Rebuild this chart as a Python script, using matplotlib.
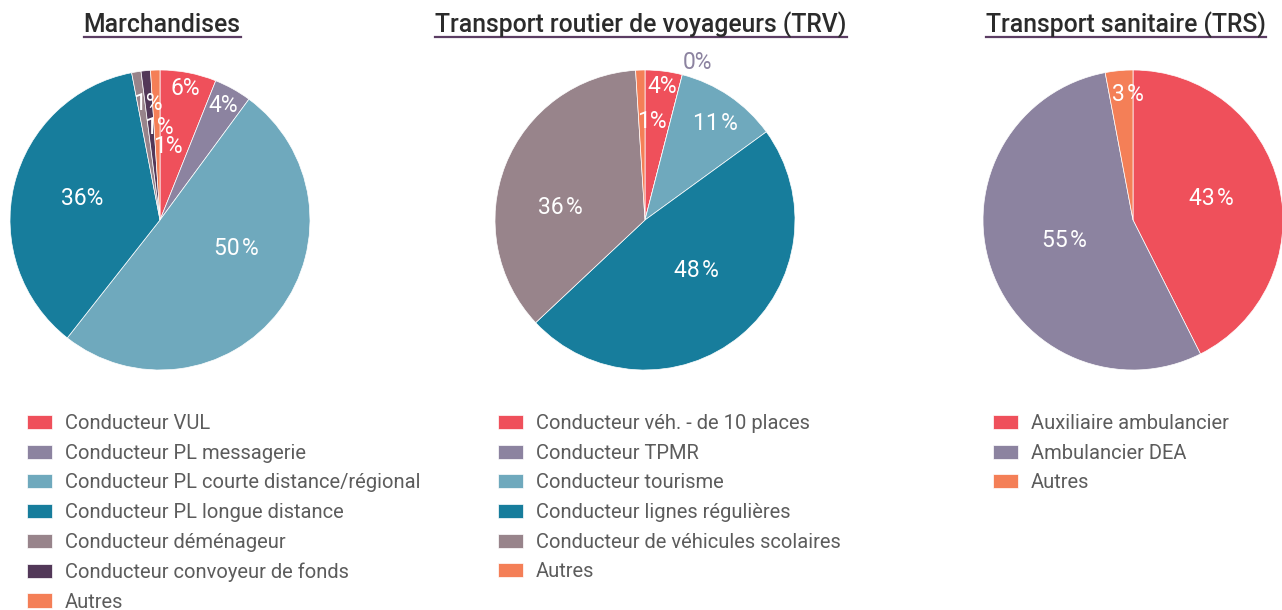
import matplotlib

matplotlib.use("Agg")
import matplotlib.pyplot as plt
import numpy as np
from matplotlib.lines import Line2D

W, H, DPI = 1282, 610, 100

RED = "#EF505B"
LILAC = "#8C83A0"
SKY = "#6FA9BD"
TEAL = "#177D9C"
MAUVE = "#98848B"
PLUM = "#523858"
ORANGE = "#F47F57"

INK = "#2b2b2b"
MUTED = "#5c5c5c"
RULE = "#5b3d63"

plt.rcParams["font.family"] = ["Roboto", "DejaVu Sans"]

# --- data -------------------------------------------------------------
march_title = "Marchandises"
march_labels = ["Conducteur VUL", "Conducteur PL messagerie",
                "Conducteur PL courte distance/régional",
                "Conducteur PL longue distance", "Conducteur déménageur",
                "Conducteur convoyeur de fonds", "Autres"]
march_values = [6, 4, 50, 36, 1, 1, 1]
march_colors = [RED, LILAC, SKY, TEAL, MAUVE, PLUM, ORANGE]

trv_title = "Transport routier de voyageurs (TRV)"
trv_labels = ["Conducteur véh. - de 10 places", "Conducteur TPMR",
              "Conducteur tourisme", "Conducteur lignes régulières",
              "Conducteur de véhicules scolaires", "Autres"]
trv_values = [4, 0, 11, 48, 36, 1]
trv_colors = [RED, LILAC, SKY, TEAL, MAUVE, ORANGE]

trs_title = "Transport sanitaire (TRS)"
trs_labels = ["Auxiliaire ambulancier", "Ambulancier DEA", "Autres"]
trs_values = [43, 55, 3]
trs_colors = [RED, LILAC, ORANGE]

# --- label placement (radius as fraction of R, angular nudge in deg, hair space) ---
march_lab_r = [0.89, 0.87, 0.54, 0.54, 0.78, 0.62, 0.49]
march_lab_dt = [0, 0, -17, 2, 3, 5, 8]
march_lab_sp = [False, False, True, False, False, False, False]

trv_lab_r = [0.90, 1.11, 0.80, 0.48, 0.57, 0.66]
trv_lab_dt = [0, 4, 2, -6, -13, 6]
trv_lab_sp = [False, False, True, True, True, False]

trs_lab_r = [0.54, 0.48, 0.84]
trs_lab_dt = [-2, 2, 3]
trs_lab_sp = [True, True, True]

fig = plt.figure(figsize=(W / DPI, H / DPI), dpi=DPI)


def px_axes(x0, y0, w, h):
    return fig.add_axes([x0 / W, 1 - (y0 + h) / H, w / W, h / H])


def draw_pie(cx, cy, r, title, title_x, labels, values, colors,
             lab_r, lab_dt, lab_sp, leg_x, leg_y):
    ax = px_axes(cx - r, cy - r, 2 * r, 2 * r)
    wedges, _ = ax.pie(values, colors=colors, startangle=90, counterclock=False,
                       radius=1, wedgeprops={"edgecolor": "white", "linewidth": 0.5})
    ax.set_xlim(-1, 1)
    ax.set_ylim(-1, 1)
    ax.set_aspect("equal")
    ax.axis("off")

    total = float(sum(values))
    cum = np.cumsum([0] + list(values))[:-1]
    for i, v in enumerate(values):
        theta = np.deg2rad(360 * (cum[i] + v / 2) / total + lab_dt[i])
        rr = lab_r[i]
        txt = f"{v:.0f}\u200a%" if lab_sp[i] else f"{v:.0f}%"
        col = "white" if v > 0 else colors[i]
        ax.text(rr * np.sin(theta), rr * np.cos(theta), txt, ha="center",
                va="center", fontsize=16.5, color=col)

    t = fig.text(title_x / W, 1 - 32 / H, title, ha="center", va="baseline",
                 fontsize=17.8, fontweight="medium", color=INK)
    fig.canvas.draw()
    bb = t.get_window_extent()
    fig.add_artist(Line2D([bb.x0 / W, bb.x1 / W], [1 - 37 / H, 1 - 37 / H],
                          color=RULE, linewidth=1.6, transform=fig.transFigure))

    fig.legend(wedges, labels, loc="upper left",
               bbox_to_anchor=(leg_x / W, 1 - leg_y / H),
               frameon=False, prop={"size": 14.5},
               labelcolor=MUTED,
               handlelength=1.25, handleheight=0.7, handletextpad=0.62,
               labelspacing=0.53, borderpad=0, borderaxespad=0)


draw_pie(160, 220, 150, march_title, 162, march_labels, march_values, march_colors,
         march_lab_r, march_lab_dt, march_lab_sp, 27, 414)
draw_pie(645, 220, 150, trv_title, 641, trv_labels, trv_values, trv_colors,
         trv_lab_r, trv_lab_dt, trv_lab_sp, 498, 414)
draw_pie(1133, 220, 150, trs_title, 1126, trs_labels, trs_values, trs_colors,
         trs_lab_r, trs_lab_dt, trs_lab_sp, 993, 414)

fig.savefig("out.png", dpi=DPI, facecolor="white")
